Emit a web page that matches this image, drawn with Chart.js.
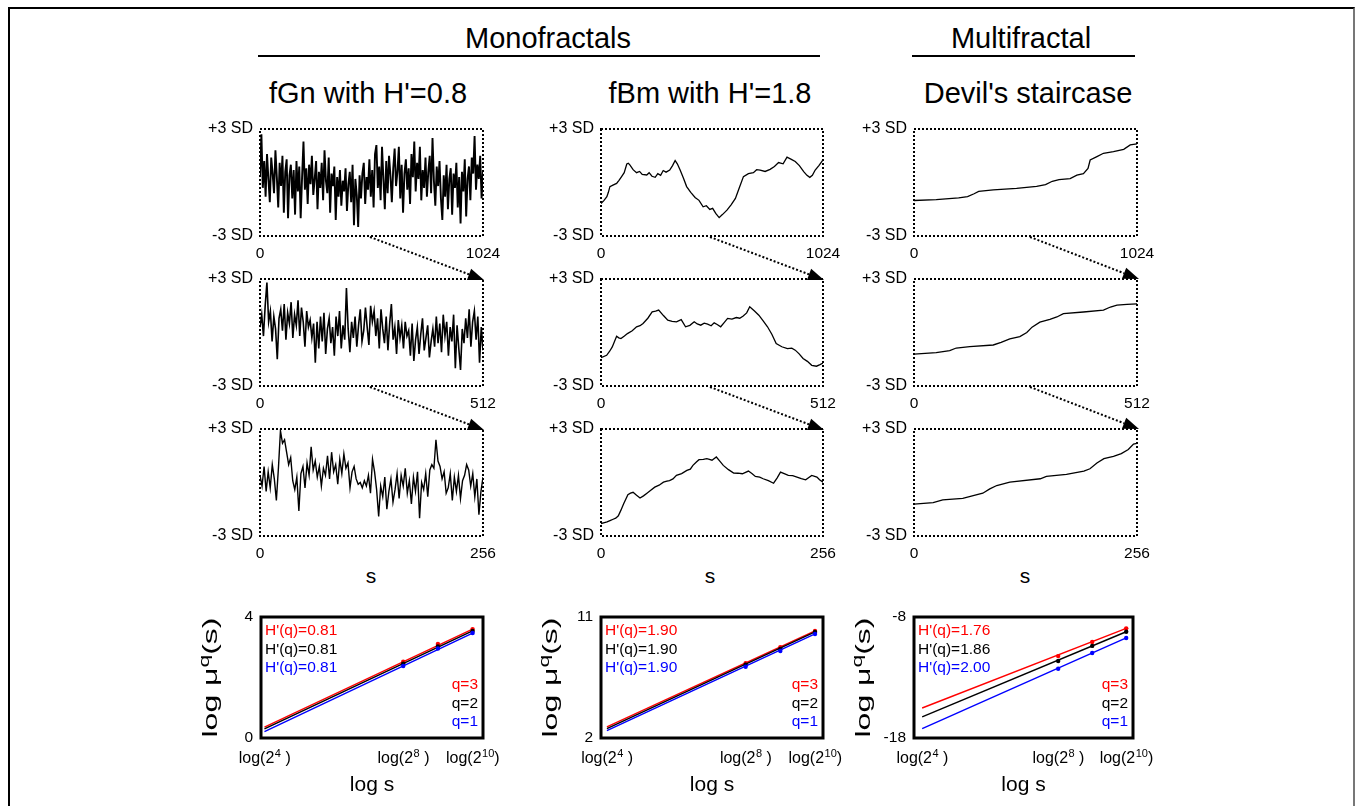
<!DOCTYPE html>
<html lang="en">
<head>
<meta charset="UTF-8">
<title>Monofractals and multifractal</title>
<script src="https://cdn.jsdelivr.net/npm/chart.js@4.4.0/dist/chart.umd.min.js"></script>
<style>
  body { margin: 0; background: #fff; font-family: "Liberation Sans", Arial, sans-serif; }
  #page { position: relative; width: 1356px; height: 806px; overflow: hidden; }
  .txt { position: absolute; width: 400px; text-align: center; white-space: nowrap; color: #000; }
  .rule { position: absolute; height: 2px; background: #000; }
  canvas { position: absolute; }
  svg { position: absolute; left: 0; top: 0; pointer-events: none; }
</style>
</head>
<body>
<div id="page">
  <div style="position:absolute;left:8px;top:7px;width:1343px;height:900px;border-top:2px solid #000;border-left:2px solid #000;border-right:2px solid #777;"></div>

  <div class="txt" style="left:348px;top:21px;font-size:29px;line-height:34px;">Monofractals</div>
  <div class="rule" style="left:258px;top:55px;width:562px;"></div>
  <div class="txt" style="left:821px;top:21px;font-size:29px;line-height:34px;">Multifractal</div>
  <div class="rule" style="left:912px;top:55px;width:223px;"></div>

  <div class="txt" style="left:168px;top:76px;font-size:29px;line-height:34px;">fGn with H'=0.8</div>
  <div class="txt" style="left:510px;top:76px;font-size:29px;line-height:34px;">fBm with H'=1.8</div>
  <div class="txt" style="left:828px;top:76px;font-size:29px;line-height:34px;">Devil's staircase</div>

  <div class="txt" style="left:171px;top:563px;font-size:21px;line-height:26px;">s</div>
  <div class="txt" style="left:510px;top:563px;font-size:21px;line-height:26px;">s</div>
  <div class="txt" style="left:825px;top:563px;font-size:21px;line-height:26px;">s</div>
</div>

<script>
// ---- time series, values in SD units ----
const fgn1024 = [
  0.4, 2.7, -0.3, 1.2, -0.8, 1.6, 0.2, -1.1, 1.4, 0.5,
  -0.6, 1.8, 0.3, -1.4, 1.1, -0.2, 1.5, -1.7, 0.6, 1.3,
  -2.0, 0.4, 1.0, -0.9, 0.7, -1.8, 1.2, -0.5, 0.9, -2.0,
  0.3, 2.3, -0.4, 0.8, -1.2, 1.0, -0.1, 1.5, -0.7, 0.2,
  1.2, -1.5, 0.6, -0.3, 1.1, -1.0, 1.8, 0.1, -0.6, 1.4,
  -1.7, 0.5, -0.2, 0.9, -2.1, 0.3, -0.8, 0.7, -1.3, 0.1,
  -0.5, 0.8, -1.6, -0.1, 0.6, -1.1, 1.0, -2.4, 0.2, -0.7,
  -2.5, 0.4, -0.9, 0.5, 1.1, -1.2, 0.3, -0.4, 1.3, -0.8,
  0.7, -1.4, 1.6, 2.1, -0.3, 0.9, -1.0, 2.0, 0.2, -1.5,
  1.2, -0.6, 1.5, 0.4, -1.1, 0.8, 1.9, -0.2, 0.6, 2.0,
  -0.9, 1.0, -1.7, 0.5, 1.3, -0.4, 0.8, -1.2, 1.6, 0.3,
  2.3, -0.5, 1.1, 0.2, 2.0, -1.0, 0.7, -0.3, 1.4, -0.8,
  0.6, 1.5, -0.6, 2.5, 0.1, -1.3, 0.9, -0.2, 1.2, -0.9,
  -2.1, 0.4, -0.8, 1.0, -1.5, 0.2, 0.8, -1.8, 0.5, -0.3,
  1.1, -1.4, 0.3, -2.3, 0.6, -0.5, 1.3, -1.9, 0.2, 0.9,
  -1.0, 1.4, 0.5, 2.6, -0.4, 1.0, 0.2, 1.5, -0.9, 0.6
];
const fgn512 = [
  0.3, 1.0, -0.2, 1.5, 2.8, 0.6, 1.2, -0.5, 0.9, 0.2,
  -1.5, 0.8, 1.3, 0.1, 1.6, -0.4, 1.1, 0.5, 1.7, -0.3,
  1.0, 0.4, 1.8, -0.2, 1.4, 0.6, -0.8, 1.2, 0.3, 0.7,
  -0.3, 0.5, -1.7, 0.6, -0.9, 0.9, -0.5, 1.1, -1.2, 0.2,
  0.8, -0.6, 0.3, -1.3, 0.9, -0.2, 1.2, -0.9, 0.4, -0.4,
  2.5, 0.2, -1.1, 0.6, -0.3, 0.9, -0.8, 0.4, 1.3, -0.5,
  0.1, 1.4, 0.3, -0.7, 1.5, 0.6, 1.2, -0.2, 0.8, -0.9,
  1.3, 0.2, -0.6, 0.9, -1.0, 0.5, 1.6, -0.4, 0.3, -1.2,
  0.7, -0.3, 0.4, -0.9, 0.6, -0.2, 0.1, -1.3, 0.5, -1.6,
  -0.4, 0.3, -1.2, -0.1, 0.8, -1.0, -0.3, 0.4, -1.4, -0.5,
  0.2, -0.8, 0.9, -0.6, 0.5, -1.1, 1.0, -0.2, 0.6, -1.3,
  0.3, -0.5, 1.0, -2.0, 0.4, -0.9, -2.1, 0.2, -0.6, 0.8,
  -0.3, 1.3, -0.8, 0.6, 1.2, -0.4, 0.9, -1.7, 0.3, -1.0
];
const fgn256 = [
  0.4, -0.2, 0.9, -0.5, 0.6, -0.3, 1.0, 0.2, -1.0, 0.8,
  2.9, 2.2, 2.4, 1.7, 1.0, 1.4, 0.1, -0.4, 0.3, -1.6,
  0.5, 0.9, -0.3, 1.1, 0.4, 2.0, 0.7, 1.2, 0.3, 0.9,
  -0.2, 0.8, 0.4, 1.5, 0.2, 1.7, 0.6, 1.0, -0.1, 1.3,
  0.5, 1.6, 0.8, 1.1, -0.3, 0.6, 0.9, 0.2, -0.1, 0.0,
  -0.3, 0.1, -0.2, 0.4, -0.6, 1.3, 0.6, -0.4, -1.9, -0.2,
  -0.8, 0.3, -1.5, -0.5, 0.2, -1.1, -0.4, 0.5, -0.9, 0.4,
  -0.2, 0.8, -0.6, 0.1, -1.2, 0.3, -0.5, 0.6, -2.0, 0.0,
  -0.4, 0.5, -0.8, 0.7, 1.0, 0.8, 2.4, 1.2, 0.9, 0.2,
  0.6, -0.6, -0.3, 0.5, -1.0, 0.3, -0.5, 0.4, -0.9, 0.1,
  0.4, 1.0, 0.7, -0.2, 0.5, -0.8, 0.2, -1.8, -0.5, 0.3
];

const fbm1024X = [0, 14, 27, 34, 41, 55, 72, 83, 95, 107, 119, 126, 133, 148, 164, 178, 190, 211, 222, 235,
  250, 262, 275, 287, 300, 317, 330, 342, 352, 365, 380, 395, 414, 434, 452, 471, 486, 502, 515, 530,
  545, 560, 581, 600, 620, 638, 657, 680, 703, 718, 734, 757, 780, 800, 819, 840, 858, 878, 896, 915,
  935, 950, 963, 975, 988, 1005, 1024];
const fbm1024Y = [-1.18, -1.0, -0.80, -0.55, -0.23, -0.15, -0.05, 0.12, 0.33, 0.55, 1.04, 1.08, 0.99, 0.72, 0.55, 0.62, 0.45, 0.42, 0.55, 0.35,
  0.29, 0.50, 0.40, 0.67, 0.58, 0.70, 0.95, 1.23, 1.05, 0.70, 0.25, -0.23, -0.55, -0.84, -1.0, -1.36, -1.30, -1.51, -1.45, -1.75,
  -1.97, -1.80, -1.55, -1.25, -0.89, -0.30, 0.33, 0.50, 0.55, 0.72, 0.70, 0.62, 0.74, 0.90, 1.12, 1.05, 1.42, 1.30, 1.18, 0.95,
  0.61, 0.40, 0.29, 0.40, 0.70, 0.95, 1.27];
const fbm512X = [0, 13, 20, 26, 36, 41, 46, 54, 61, 72, 82, 90, 97, 108, 118, 126, 133, 144, 154, 164,
  174, 185, 195, 205, 215, 222, 230, 238, 246, 254, 261, 268, 276, 284, 292, 302, 312, 320, 328, 336,
  343, 354, 364, 374, 384, 394, 404, 417, 430, 440, 448, 457, 466, 476, 486, 497, 505, 512];
const fbm512Y = [-1.41, -1.28, -1.05, -0.81, -0.21, -0.30, -0.34, -0.20, -0.06, 0.10, 0.32, 0.38, 0.51, 0.80, 1.16, 1.20, 1.26, 0.95, 0.69, 0.62,
  0.60, 0.72, 0.32, 0.40, 0.60, 0.48, 0.41, 0.52, 0.47, 0.38, 0.54, 0.45, 0.32, 0.55, 0.79, 0.75, 0.84, 0.80, 0.92, 1.10,
  1.44, 1.20, 0.97, 0.65, 0.32, -0.10, -0.62, -0.80, -0.90, -0.88, -0.99, -1.20, -1.46, -1.62, -1.84, -1.89, -1.80, -1.71];
const fbm256X = [0, 4, 7, 11, 14, 17, 20, 23, 26, 31, 34, 37, 41, 45, 49, 53, 57, 62, 67, 72,
  76, 79, 83, 87, 93, 99, 103, 106, 110, 113, 118, 122, 125, 128, 133, 137, 141, 147, 153, 158,
  163, 170, 174, 178, 183, 187, 193, 199, 203, 207, 212, 216, 221, 226, 231, 236, 243, 249, 252, 256];
const fbm256Y = [-2.30, -2.25, -2.21, -2.12, -2.06, -2.00, -1.87, -1.55, -1.21, -0.68, -0.60, -0.55, -0.72, -0.87, -0.75, -0.60, -0.45, -0.26, -0.15, 0.02,
  0.08, 0.11, 0.20, 0.40, 0.50, 0.68, 0.75, 0.96, 1.15, 1.28, 1.30, 1.34, 1.30, 1.25, 1.43, 1.20, 0.96, 0.72, 0.53, 0.52,
  0.49, 0.64, 0.50, 0.34, 0.30, 0.21, 0.10, -0.04, 0.25, 0.58, 0.48, 0.40, 0.38, 0.30, 0.22, 0.15, 0.40, 0.30, 0.15, 0.02];

const stair1024X = [0, 102, 205, 246, 276, 297, 364, 471, 563, 604, 635, 666, 717, 748, 778, 799, 809, 840, 870, 916, 963, 993, 1024];
const stair1024Y = [-1.01, -0.96, -0.86, -0.79, -0.63, -0.50, -0.41, -0.33, -0.22, -0.12, 0.07, 0.16, 0.22, 0.41, 0.50, 0.79, 1.26, 1.45, 1.64, 1.73, 1.86, 2.11, 2.17];
const stair512X = [0, 51, 82, 97, 128, 182, 200, 220, 243, 259, 271, 289, 312, 328, 343, 389, 435, 451, 466, 489, 512];
const stair512Y = [-1.21, -1.13, -1.02, -0.87, -0.79, -0.70, -0.55, -0.36, -0.23, 0.0, 0.30, 0.58, 0.74, 0.87, 1.06, 1.15, 1.25, 1.43, 1.53, 1.58, 1.60];
const stair256X = [0, 22, 33, 56, 68, 79, 87, 95, 110, 145, 152, 175, 195, 202, 210, 218, 229, 238, 246, 252, 256];
const stair256Y = [-1.21, -1.13, -0.98, -0.89, -0.74, -0.60, -0.36, -0.17, 0.02, 0.21, 0.34, 0.45, 0.64, 0.77, 1.09, 1.34, 1.47, 1.62, 1.85, 2.15, 2.19];

const sdTickText = ['-3 SD', '+3 SD'];

// ---- log-log scaling, x = log2(s) ----
const logFitX = [4, 10];
const logPtX = [8, 9, 10];
const logTickVals = [4, 8, 10];
const logTickSup = ['4', '8', '10'];
const logTickTail = [' )', ' )', ')'];
const qText = ['q=3', 'q=2', 'q=1'];
const qColors = ['#ff0000', '#000000', '#0000ff'];

const fgnFitRed = [0.36, 3.60], fgnFitBlack = [0.30, 3.54], fgnFitBlue = [0.21, 3.47];
const fgnPtRed = [2.52, 3.11, 3.60], fgnPtBlack = [2.46, 3.03, 3.54], fgnPtBlue = [2.38, 2.96, 3.47];
const fgnH = ['0.81', '0.81', '0.81'];

const fbmFitRed = [2.82, 9.96], fbmFitBlack = [2.69, 9.89], fbmFitBlue = [2.54, 9.74];
const fbmPtRed = [7.56, 8.75, 9.96], fbmPtBlack = [7.45, 8.62, 9.89], fbmPtBlue = [7.30, 8.47, 9.74];
const fbmH = ['1.90', '1.90', '1.90'];

const stairFitRed = [-15.52, -8.94], stairFitBlack = [-16.25, -9.22], stairFitBlue = [-17.23, -9.73];
const stairPtRed = [-11.23, -10.06, -8.94], stairPtBlack = [-11.64, -10.39, -9.22], stairPtBlue = [-12.28, -10.98, -9.73];
const stairH = ['1.76', '1.86', '2.00'];

const FONT = '"Liberation Sans", Arial, sans-serif';
const page = document.getElementById('page');

// dotted frame round each time series
const dottedBox = {
  id: 'dottedBox',
  afterDatasetsDraw(chart) {
    const a = chart.chartArea, ctx = chart.ctx;
    ctx.save();
    ctx.setLineDash([2, 2]);
    ctx.lineWidth = 2;
    ctx.strokeStyle = '#000';
    ctx.strokeRect(a.left, a.top, a.right - a.left, a.bottom - a.top);
    ctx.restore();
  }
};

function makeCanvas(left, top, w, h) {
  const cv = document.createElement('canvas');
  cv.width = w; cv.height = h;
  cv.style.left = left + 'px'; cv.style.top = top + 'px';
  cv.style.width = w + 'px'; cv.style.height = h + 'px';
  page.appendChild(cv);
  return cv;
}

function seriesChart(boxLeft, boxTop, boxW, n, xs, ys, lw) {
  const cv = makeCanvas(boxLeft - 60, boxTop - 10, 60 + boxW + 24, 10 + 107 + 26);
  const pts = xs ? xs.map((x, i) => ({ x: x, y: ys[i] }))
                 : ys.map((y, i) => ({ x: i * n / (ys.length - 1), y: y }));
  new Chart(cv, {
    type: 'line',
    data: { datasets: [{ data: pts, borderColor: '#000', borderWidth: lw, pointRadius: 0, tension: 0 }] },
    options: {
      responsive: false, animation: false, devicePixelRatio: 1,
      layout: { padding: { left: 0, top: 10, right: 24, bottom: 0 } },
      plugins: { legend: { display: false }, tooltip: { enabled: false } },
      scales: {
        x: {
          type: 'linear', min: 0, max: n,
          grid: { display: false, drawTicks: false }, border: { display: false },
          afterBuildTicks: s => { s.ticks = [{ value: 0 }, { value: n }]; },
          afterFit: s => { s.height = 26; s.paddingLeft = 0; s.paddingRight = 0; },
          ticks: { font: { size: 15.5, family: FONT }, color: '#000', padding: 8, maxRotation: 0, autoSkip: false,
                   callback: v => String(v) }
        },
        y: {
          min: -3, max: 3,
          grid: { display: false, drawTicks: false }, border: { display: false },
          afterBuildTicks: s => { s.ticks = [{ value: -3 }, { value: 3 }]; },
          afterFit: s => { s.width = 60; s.paddingTop = 0; s.paddingBottom = 0; },
          ticks: { font: { size: 16, family: FONT }, color: '#000', padding: 7, autoSkip: false,
                   callback: v => v > 0 ? sdTickText[1] : sdTickText[0] }
        }
      }
    },
    plugins: [dottedBox]
  });
}

// solid frame, x tick labels with superscripts, y title and coloured labels of a log-log panel
function logDecor(hVals) {
  return {
    id: 'logDecor',
    afterDatasetsDraw(chart) {
      const a = chart.chartArea, ctx = chart.ctx;
      ctx.save();
      ctx.lineWidth = 3;
      ctx.strokeStyle = '#000';
      ctx.strokeRect(a.left, a.top, a.right - a.left, a.bottom - a.top);

      ctx.font = '15.5px ' + FONT;
      ctx.textBaseline = 'middle';
      ctx.textAlign = 'left';
      [14, 33, 51].forEach((dy, i) => {
        ctx.fillStyle = qColors[i];
        ctx.fillText("H'(q)=" + hVals[i], a.left + 4, a.top + dy);
      });
      ctx.textAlign = 'right';
      [68, 87, 105].forEach((dy, i) => {
        ctx.fillStyle = qColors[i];
        ctx.fillText(qText[i], a.right - 5, a.top + dy);
      });

      // x tick labels log(2^k)
      ctx.fillStyle = '#000';
      ctx.textAlign = 'left';
      ctx.textBaseline = 'alphabetic';
      const base = '16px ' + FONT, sup = '11px ' + FONT;
      const xs = chart.scales.x;
      logTickVals.forEach((v, i) => {
        ctx.font = base;
        const w1 = ctx.measureText('log(2').width, w3 = ctx.measureText(logTickTail[i]).width;
        ctx.font = sup;
        const w2 = ctx.measureText(logTickSup[i]).width;
        let u = xs.getPixelForValue(v) - (w1 + w2 + w3) / 2;
        const yb = a.bottom + 25;
        ctx.font = base; ctx.fillText('log(2', u, yb); u += w1;
        ctx.font = sup;  ctx.fillText(logTickSup[i], u + 0.5, yb - 6); u += w2 + 0.5;
        ctx.font = base; ctx.fillText(logTickTail[i], u, yb);
      });

      // rotated y title: log μ^q(s)
      const big = '21px ' + FONT, small = '15px ' + FONT;
      ctx.font = big;
      const t1 = ctx.measureText('log \u03bc').width, t3 = ctx.measureText('(s)').width;
      ctx.font = small;
      const t2 = ctx.measureText('q').width;
      const total = t1 + t2 + t3;
      ctx.translate(a.left - 44, (a.top + a.bottom) / 2);
      ctx.rotate(-Math.PI / 2);
      ctx.scale(120 / total, 1);
      let u = -total / 2;
      ctx.font = big;  ctx.fillText('log \u03bc', u, 0); u += t1;
      ctx.font = small; ctx.fillText('q', u, -8); u += t2;
      ctx.font = big;  ctx.fillText('(s)', u, 0);
      ctx.restore();
    }
  };
}

function logChart(boxLeft, boxW, xmin, xmax, ymin, ymax, fits, pts, hVals) {
  const cv = makeCanvas(boxLeft - 70, 607, 70 + boxW + 25, 10 + 121 + 62);
  const datasets = [];
  fits.forEach((f, i) => {
    datasets.push({ data: logFitX.map((x, k) => ({ x: x, y: f[k] })), borderColor: qColors[i],
                    borderWidth: 1.4, pointRadius: 0, order: 2 - i });
    datasets.push({ data: logPtX.map((x, k) => ({ x: x, y: pts[i][k] })), showLine: false,
                    pointRadius: 2.2, pointBackgroundColor: qColors[i], pointBorderWidth: 0, order: 2 - i });
  });
  new Chart(cv, {
    type: 'line',
    data: { datasets: datasets },
    options: {
      responsive: false, animation: false, devicePixelRatio: 1,
      layout: { padding: { left: 0, top: 10, right: 25, bottom: 0 } },
      plugins: { legend: { display: false }, tooltip: { enabled: false } },
      scales: {
        x: {
          type: 'linear', min: xmin, max: xmax,
          grid: { display: false, drawTicks: false }, border: { display: false },
          afterBuildTicks: s => { s.ticks = logTickVals.map(v => ({ value: v })); },
          afterFit: s => { s.height = 62; s.paddingLeft = 0; s.paddingRight = 0; },
          ticks: { display: false },
          title: { display: true, text: 'log s', color: '#000', font: { size: 21, family: FONT },
                   padding: { top: 0, bottom: 2 } }
        },
        y: {
          min: ymin, max: ymax,
          grid: { display: false, drawTicks: false }, border: { display: false },
          afterBuildTicks: s => { s.ticks = [{ value: ymin }, { value: ymax }]; },
          afterFit: s => { s.width = 70; s.paddingTop = 0; s.paddingBottom = 0; },
          ticks: { font: { size: 15.5, family: FONT }, color: '#000', padding: 8, autoSkip: false,
                   callback: v => String(v) }
        }
      }
    },
    plugins: [logDecor(hVals)]
  });
}

// time series panels
seriesChart(260, 129, 223, 1024, null, fgn1024, 1.9);
seriesChart(260, 279, 223, 512, null, fgn512, 1.6);
seriesChart(260, 429, 223, 256, null, fgn256, 1.4);
seriesChart(601, 129, 222, 1024, fbm1024X, fbm1024Y, 1.3);
seriesChart(601, 279, 222, 512, fbm512X, fbm512Y, 1.3);
seriesChart(601, 429, 222, 256, fbm256X, fbm256Y, 1.3);
seriesChart(914, 129, 223, 1024, stair1024X, stair1024Y, 1.3);
seriesChart(914, 279, 223, 512, stair512X, stair512Y, 1.3);
seriesChart(914, 429, 223, 256, stair256X, stair256Y, 1.3);

// log-log panels
logChart(261, 222, 3.9, 10.3, 0, 4, [fgnFitRed, fgnFitBlack, fgnFitBlue], [fgnPtRed, fgnPtBlack, fgnPtBlue], fgnH);
logChart(601, 222, 3.83, 10.23, 2, 11, [fbmFitRed, fbmFitBlack, fbmFitBlue], [fbmPtRed, fbmPtBlack, fbmPtBlue], fbmH);
logChart(914, 219, 3.76, 10.2, -18, -8, [stairFitRed, stairFitBlack, stairFitBlue], [stairPtRed, stairPtBlack, stairPtBlue], stairH);

// dotted zoom arrows between rows
const NS = 'http://www.w3.org/2000/svg';
const svg = document.createElementNS(NS, 'svg');
svg.setAttribute('width', 1356); svg.setAttribute('height', 806);
page.appendChild(svg);
function arrow(x1, y1, x2, y2) {
  const dx = x2 - x1, dy = y2 - y1, L = Math.hypot(dx, dy), ux = dx / L, uy = dy / L;
  const hl = 16, hw = 6, bx = x2 - ux * hl, by = y2 - uy * hl;
  const ln = document.createElementNS(NS, 'line');
  ln.setAttribute('x1', x1); ln.setAttribute('y1', y1); ln.setAttribute('x2', bx); ln.setAttribute('y2', by);
  ln.setAttribute('stroke', '#000'); ln.setAttribute('stroke-width', 2); ln.setAttribute('stroke-dasharray', '2 2');
  svg.appendChild(ln);
  const p = document.createElementNS(NS, 'polygon');
  p.setAttribute('points', [x2, y2, bx - uy * hw, by + ux * hw, bx + uy * hw, by - ux * hw].join(' '));
  p.setAttribute('fill', '#000');
  svg.appendChild(p);
}
arrow(370, 237, 484, 280); arrow(370, 387, 484, 430);
arrow(710, 237, 824, 280); arrow(710, 387, 824, 430);
arrow(1030, 237, 1139, 279); arrow(1030, 387, 1139, 429);
</script>
</body>
</html>
